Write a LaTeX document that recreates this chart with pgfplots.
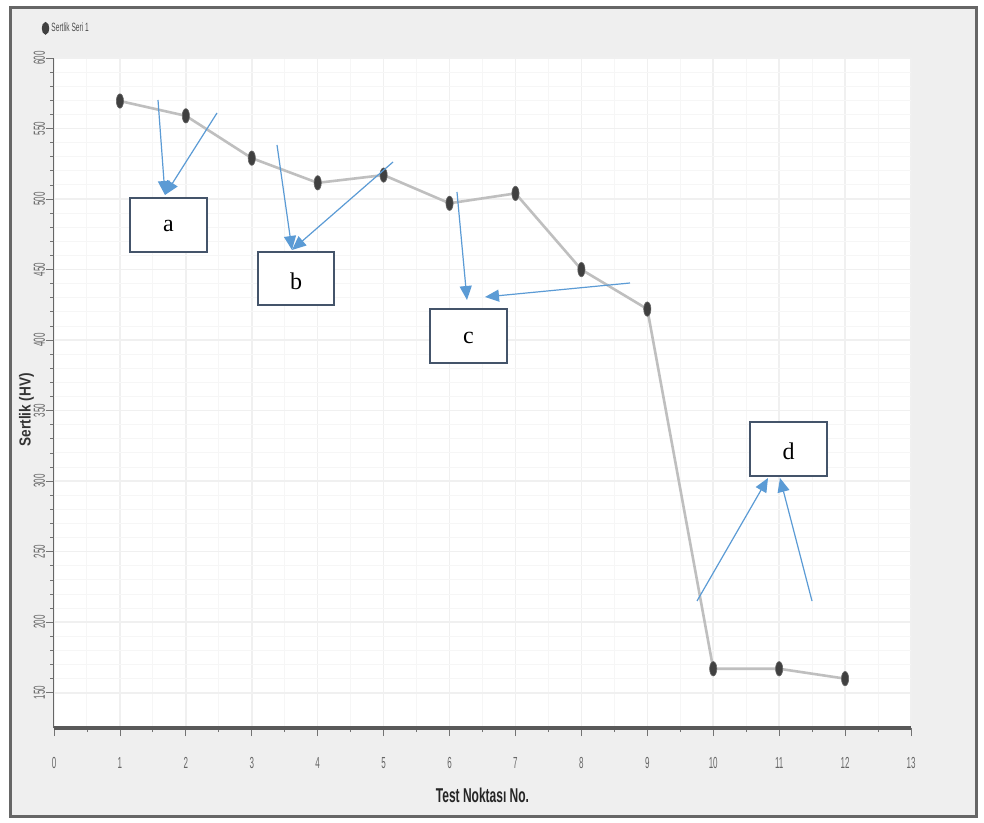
\documentclass[border=0pt]{standalone}
\usepackage{pgfplots}
\pgfplotsset{compat=1.18}
\usepackage{fontspec}
\setmainfont{Liberation Sans}
\newfontfamily\serifabc{Liberation Serif}
\usetikzlibrary{arrows.meta}
\definecolor{bgframe}{HTML}{EFEFEF}
\definecolor{arrowblue}{HTML}{5B9BD5}
\definecolor{boxslate}{HTML}{44546A}
\begin{document}
\begin{tikzpicture}
\useasboundingbox (0,0) rectangle (492pt,-411.5pt);
\begin{scope}[x=0.5pt,y=-0.5pt]
\fill[white] (0,0) rectangle (984,823);
\fill[bgframe] (10,8) rectangle (976,816);
\draw[gray!80!black, line width=1.5pt] (10,8) rectangle (976,816);
\end{scope}
\begin{axis}[
  at={(27pt,-364pt)}, anchor=south west,
  scale only axis, width=428.5pt, height=335pt,
  xmin=0, xmax=13, ymin=125, ymax=600,
  xtick={0,...,13}, ytick={150,200,...,600},
  minor y tick num=4, minor x tick num=1,
  axis background/.style={fill=white},
  grid=both,
  major grid style={gray!12, line width=0.8pt},
  minor grid style={gray!7, line width=0.5pt},
  axis x line*=bottom, axis y line*=left,
  x axis line style={-, line width=2pt, black!65},
  y axis line style={-, line width=0.5pt, black!60},
  tick style={black!55, line width=0.4pt},
  tick align=outside, major tick length=4pt, minor tick length=2pt,
  xticklabel style={font=\fontsize{8}{8}\selectfont, text=black!60, xscale=0.5, yshift=-7pt},
  yticklabel style={font=\fontsize{8}{8}\selectfont, text=black!60, rotate=90, xscale=0.5, anchor=south},
  yticklabel shift=-3pt,
  xlabel={\textbf{Test Noktası No.}},
  ylabel={\textbf{Sertlik (HV)}},
  xlabel style={font=\fontsize{10}{11}\selectfont, text=black!85, xscale=0.6, yshift=-3pt},
  ylabel style={font=\fontsize{8}{9}\selectfont, text=black!80, xscale=0.85, at={(axis description cs:-0.032,0.475)}, anchor=center, rotate=0},
  /pgf/number format/assume math mode=true,
  legend style={at={(-0.017,1.026)}, anchor=south west, draw=none, fill=none, font=\fontsize{6}{6}\selectfont, text=black!70, inner sep=1pt, nodes={xscale=0.55}},
  legend image code/.code={\fill[black!75] (0.08cm,0cm) ellipse (1.2pt and 2.4pt);},
  legend cell align=left,
  clip=false,
]
\addplot[color=black!25, line width=1.3pt, mark=*, mark size=3.6pt,
  mark options={xscale=0.5, fill=black!75, draw=black!60, line width=0.3pt}]
  coordinates {
  (1,569.5) (2,559) (3,529) (4,511.5) (5,517) (6,497) (7,504)
  (8,450) (9,422) (10,167) (11,167) (12,160)
  };
\addlegendentry{Sertlik Seri 1}
\end{axis}
\begin{scope}[x=0.5pt,y=-0.5pt, arr/.style={arrowblue, line width=0.6pt, -{Triangle[length=7pt,width=6pt]}}]
% a
\draw[arr] (158,100) -- (165,195);
\draw[arr] (217,113) -- (165,195);
\draw[boxslate, line width=1pt, fill=white] (130,198) rectangle (207,252);
\node[font=\serifabc\fontsize{12}{14}\selectfont] at (168.5,226) {a};
% b
\draw[arr] (277,145) -- (292,250);
\draw[arr] (393,162) -- (292,250);
\draw[boxslate, line width=1pt, fill=white] (258,252) rectangle (334,305);
\node[font=\serifabc\fontsize{12}{14}\selectfont] at (296,281) {b};
% c
\draw[arr] (457,192) -- (467,300);
\draw[arr] (630,283) -- (485,297);
\draw[boxslate, line width=1pt, fill=white] (430,309) rectangle (507,363);
\node[font=\serifabc\fontsize{12}{14}\selectfont] at (468.5,338) {c};
% d
\draw[arr] (697,601) -- (768,478);
\draw[arr] (812,601) -- (780,478);
\draw[boxslate, line width=1pt, fill=white] (750,422) rectangle (827,476);
\node[font=\serifabc\fontsize{12}{14}\selectfont] at (788.5,451) {d};
\end{scope}
\end{tikzpicture}
\end{document}
